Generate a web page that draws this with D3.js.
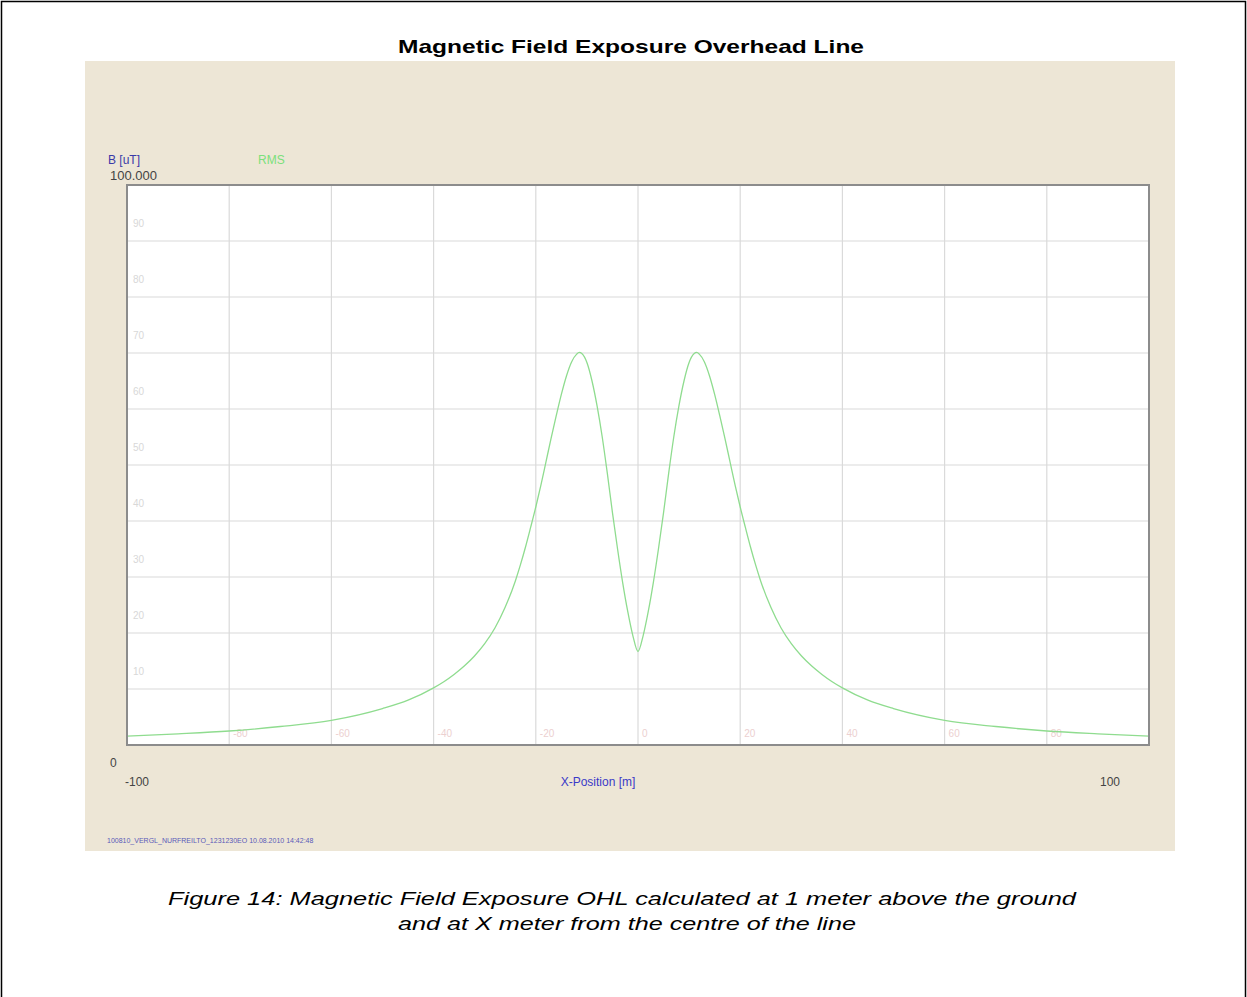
<!DOCTYPE html>
<html lang="en">
    <head>
        <meta charset="utf-8">
        <title>Magnetic Field Exposure Overhead Line</title>
        <script src="https://d3js.org/d3.v7.min.js"></script>
        <style type="text/css">
            body{
                margin: 0;
                background: white;
            }
            svg{
                display: block;
                font-family: "Liberation Sans", Arial, sans-serif;
            }
        </style>
    </head>
    <body>
        <svg width="1247" height="997"></svg>
        <script type="text/javascript">

            // x position in metres (left half, mirrored below) and RMS field in uT
            const xLeft = [-100, -90, -80, -70, -60, -50, -45, -40, -38, -36, -34, -32, -30, -28, -26, -24, -23, -22, -21, -20, -19, -18, -17, -16,
                           -15, -14, -13, -12, -11.5, -11, -10, -9, -8, -7, -6, -5, -4, -3, -2, -1];
            const bLeft = [1.6, 2.0, 2.5, 3.3, 4.4, 6.5, 8.0, 10.2, 11.3, 12.6, 14.1, 15.9, 18.1, 20.9, 24.6, 29.3, 32.2, 35.4, 38.9, 42.5, 46.4, 50.6, 54.8, 58.8,
                           62.6, 65.9, 68.4, 69.8, 70.1, 69.9, 68.3, 65.0, 60.5, 55.0, 48.5, 41.5, 35.0, 29.0, 23.8, 19.5];
            const bCentre = 16.7;

            const xTicks = [-80, -60, -40, -20, 0, 20, 40, 60, 80];
            const yTicks = [10, 20, 30, 40, 50, 60, 70, 80, 90];
            const xGrid = [-100, -80, -60, -40, -20, 0, 20, 40, 60, 80, 100];
            const yGrid = [0, 10, 20, 30, 40, 50, 60, 70, 80, 90, 100];

            // the profile is symmetric about the centre of the line
            const data = xLeft.map((x, i) => ({x: x, b: bLeft[i]}))
                .concat([{x: 0, b: bCentre}])
                .concat(xLeft.map((x, i) => ({x: -x, b: bLeft[i]})).reverse());

            const svg = d3.select("svg");

            // page frame
            svg.append("path")
                .attr("d", "M1.5,997 V1.5 H1245.5 V997")
                .attr("fill", "none")
                .attr("stroke", "black")
                .attr("stroke-width", 1.5);

            svg.append("text")
                .attr("x", 631)
                .attr("y", 53)
                .attr("text-anchor", "middle")
                .attr("font-size", "19px")
                .attr("font-weight", "bold")
                .attr("textLength", 466)
                .attr("lengthAdjust", "spacingAndGlyphs")
                .text("Magnetic Field Exposure Overhead Line");

            // beige panel
            svg.append("rect")
                .attr("x", 85)
                .attr("y", 61)
                .attr("width", 1090)
                .attr("height", 790)
                .attr("fill", "#ede6d6");

            const plotL = 127, plotR = 1149, plotT = 185, plotB = 745;

            const xScale = d3.scaleLinear().domain([-100, 100]).range([plotL, plotR]);
            const yScale = d3.scaleLinear().domain([0, 100]).range([plotB, plotT]);

            svg.append("rect")
                .attr("x", plotL)
                .attr("y", plotT)
                .attr("width", plotR - plotL)
                .attr("height", plotB - plotT)
                .attr("fill", "white");

            // grid
            svg.append("g")
                .selectAll("line")
                .data(xGrid)
                .join("line")
                .attr("x1", d => xScale(d))
                .attr("x2", d => xScale(d))
                .attr("y1", plotT)
                .attr("y2", plotB)
                .attr("stroke", "#dadada")
                .attr("stroke-width", 1.2);

            svg.append("g")
                .selectAll("line")
                .data(yGrid)
                .join("line")
                .attr("x1", plotL)
                .attr("x2", plotR)
                .attr("y1", d => yScale(d))
                .attr("y2", d => yScale(d))
                .attr("stroke", "#dadada")
                .attr("stroke-width", 1.2);

            // faint labels inside the plot
            svg.append("g")
                .selectAll("text")
                .data(yTicks)
                .join("text")
                .attr("x", plotL + 6)
                .attr("y", d => yScale(d) - 14)
                .attr("font-size", "10px")
                .attr("fill", "#d8d8d8")
                .text(d => d);

            svg.append("g")
                .selectAll("text")
                .data(xTicks)
                .join("text")
                .attr("x", d => xScale(d) + 4)
                .attr("y", plotB - 8)
                .attr("font-size", "10px")
                .attr("fill", "#ecd0d0")
                .text(d => d);

            // curve
            const line = d3.line()
                .x(d => xScale(d.x))
                .y(d => yScale(d.b))
                .curve(d3.curveMonotoneX);

            svg.append("path")
                .datum(data)
                .attr("d", line)
                .attr("fill", "none")
                .attr("stroke", "#8fdc8f")
                .attr("stroke-width", 1.3);

            // plot border
            svg.append("rect")
                .attr("x", plotL)
                .attr("y", plotT)
                .attr("width", plotR - plotL)
                .attr("height", plotB - plotT)
                .attr("fill", "none")
                .attr("stroke", "#8c8c8c")
                .attr("stroke-width", 2);

            // labels
            svg.append("text")
                .attr("x", 108).attr("y", 164)
                .attr("font-size", "12px")
                .attr("fill", "#3a3aa8")
                .text("B [uT]");

            svg.append("text")
                .attr("x", 258).attr("y", 164)
                .attr("font-size", "12px")
                .attr("fill", "#7be07b")
                .text("RMS");

            svg.append("text")
                .attr("x", 110).attr("y", 180)
                .attr("font-size", "13px")
                .attr("fill", "#444")
                .text("100.000");

            svg.append("text")
                .attr("x", 110).attr("y", 767)
                .attr("font-size", "12px")
                .attr("fill", "#444")
                .text("0");

            svg.append("text")
                .attr("x", 125).attr("y", 786)
                .attr("font-size", "12px")
                .attr("fill", "#444")
                .text("-100");

            svg.append("text")
                .attr("x", 1100).attr("y", 786)
                .attr("font-size", "12px")
                .attr("fill", "#444")
                .text("100");

            svg.append("text")
                .attr("x", 598).attr("y", 786)
                .attr("text-anchor", "middle")
                .attr("font-size", "12px")
                .attr("fill", "#3a3ac8")
                .text("X-Position [m]");

            svg.append("text")
                .attr("x", 107).attr("y", 843)
                .attr("font-size", "7px")
                .attr("fill", "#5a5ab8")
                .text("100810_VERGL_NURFREILTO_1231230EO 10.08.2010 14:42:48");

            // caption
            svg.append("text")
                .attr("x", 622).attr("y", 905)
                .attr("text-anchor", "middle")
                .attr("font-size", "19px")
                .attr("font-style", "italic")
                .attr("textLength", 908)
                .attr("lengthAdjust", "spacingAndGlyphs")
                .text("Figure 14: Magnetic Field Exposure OHL calculated at 1 meter above the ground");

            svg.append("text")
                .attr("x", 627).attr("y", 930)
                .attr("text-anchor", "middle")
                .attr("font-size", "19px")
                .attr("font-style", "italic")
                .attr("textLength", 458)
                .attr("lengthAdjust", "spacingAndGlyphs")
                .text("and at X meter from the centre of the line");

        </script>
    </body>
</html>
